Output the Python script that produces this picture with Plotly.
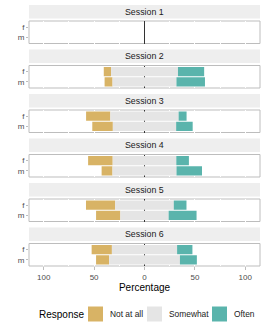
import plotly.graph_objects as go
from plotly.subplots import make_subplots

# ---- data (percentages) ----
sessions = ["Session 1", "Session 2", "Session 3", "Session 4", "Session 5", "Session 6"]
genders = ["f", "m"]
responses = ["Not at all", "Somewhat", "Often"]
not_at_all_f = [None, 7.2, 24.1, 24.4, 29.0, 20.1]
somewhat_f = [None, 66.4, 67.7, 63.1, 58.1, 64.7]
often_f = [None, 26.0, 7.9, 12.5, 12.6, 15.2]
not_at_all_m = [None, 7.9, 20.4, 10.8, 24.1, 12.9]
somewhat_m = [None, 63.4, 62.8, 63.5, 47.9, 70.3]
often_m = [None, 28.3, 16.4, 25.3, 27.7, 16.8]
x_tickvals = [-100, -50, 0, 50, 100]
x_ticktext = ["100", "50", "0", "50", "100"]

# ---- style ----
FONT = "Liberation Sans"
COLORS = {"Not at all": "#D8B365", "Somewhat": "#E5E5E5", "Often": "#5AB4AC"}
W, H = 266, 332
ML, MR, MT, MB = 29, 6, 21, 66
PANEL_H = 22.5
GAP = 22
plot_h = H - MT - MB

fig = make_subplots(rows=6, cols=1, shared_xaxes=True,
                    vertical_spacing=GAP / plot_h)

for i, s in enumerate(sessions):
    r = i + 1
    # invisible anchor trace so every facet keeps its f/m axis
    fig.add_trace(go.Scatter(x=[0, 0], y=genders, mode="markers",
                             marker=dict(opacity=0), hoverinfo="skip",
                             showlegend=False), row=r, col=1)
    n = [not_at_all_f[i], not_at_all_m[i]]
    so = [somewhat_f[i], somewhat_m[i]]
    of = [often_f[i], often_m[i]]
    if n[0] is not None:
        fig.add_trace(go.Bar(orientation="h", y=genders, x=n,
                             base=[-a / 2 - b for a, b in zip(so, n)],
                             width=0.9, marker=dict(color=COLORS["Not at all"], line_width=0),
                             name="Not at all", showlegend=False), row=r, col=1)
        fig.add_trace(go.Bar(orientation="h", y=genders, x=so,
                             base=[-a / 2 for a in so],
                             width=0.9, marker=dict(color=COLORS["Somewhat"], line_width=0),
                             name="Somewhat", showlegend=False), row=r, col=1)
        fig.add_trace(go.Bar(orientation="h", y=genders, x=of,
                             base=[a / 2 for a in so],
                             width=0.9, marker=dict(color=COLORS["Often"], line_width=0),
                             name="Often", showlegend=False), row=r, col=1)
    sfx = "" if r == 1 else str(r)
    # panel border
    fig.add_shape(type="rect", xref=f"x{sfx} domain", yref=f"y{sfx} domain",
                  x0=0, x1=1, y0=0, y1=1, layer="below",
                  line=dict(color="#BDBDBD", width=1), fillcolor="white")
    # strip
    y0 = 1 + 2.5 / PANEL_H
    y1 = 1 + 16 / PANEL_H
    fig.add_shape(type="rect", xref=f"x{sfx} domain", yref=f"y{sfx} domain",
                  x0=0, x1=1, y0=y0, y1=y1, line=dict(width=0), fillcolor="#EEEEEE")
    fig.add_annotation(xref=f"x{sfx} domain", yref=f"y{sfx} domain",
                       x=0.5, y=(y0 + y1) / 2, text=s, showarrow=False,
                       font=dict(family=FONT, size=8.8, color="#1A1A1A"),
                       xanchor="center", yanchor="middle")
    fig.update_yaxes(row=r, col=1, type="category", categoryorder="array",
                     categoryarray=["m", "f"], range=[-0.6, 1.6], automargin=False,
                     showgrid=False, zeroline=False, ticks="outside", ticklen=2,
                     tickcolor="#BDBDBD", showline=False,
                     tickfont=dict(family=FONT, size=8, color="#4D4D4D"))
    fig.update_xaxes(row=r, col=1, range=[-114.6, 114.6], tickvals=x_tickvals,
                     ticktext=x_ticktext, showgrid=True, gridcolor="white", gridwidth=1,
                     minor=dict(tickvals=[-75, -25, 25, 75], showgrid=True,
                                gridcolor="white", gridwidth=1),
                     zeroline=True, zerolinecolor="#333333", zerolinewidth=1,
                     showline=False, automargin=False,
                     tickfont=dict(family=FONT, size=8, color="#4D4D4D"))

fig.update_xaxes(row=6, col=1, ticks="outside", ticklen=3, tickcolor="#BDBDBD",
                 title=dict(text="Percentage", font=dict(family=FONT, size=10, color="black"),
                            standoff=1))

# ---- manual legend (pixel layout -> paper coords) ----
def px_x(p):
    return (p - ML) / (W - ML - MR)

def px_y(p):
    return (H - MB - p) / plot_h

leg_cy = 314
fig.add_annotation(xref="paper", yref="paper", x=px_x(37), y=px_y(leg_cy), text="Response",
                   showarrow=False, xanchor="left", yanchor="middle",
                   font=dict(family=FONT, size=10, color="black"))
legend_items = [("Not at all", 88), ("Somewhat", 147), ("Often", 212)]
for name, bx in legend_items:
    fig.add_shape(type="rect", xref="paper", yref="paper",
                  x0=px_x(bx), x1=px_x(bx + 15), y0=px_y(leg_cy + 7.5), y1=px_y(leg_cy - 7.5),
                  line=dict(width=0), fillcolor=COLORS[name])
    fig.add_annotation(xref="paper", yref="paper", x=px_x(bx + 20), y=px_y(leg_cy), text=name,
                       showarrow=False, xanchor="left", yanchor="middle",
                       font=dict(family=FONT, size=8.4, color="#1A1A1A"))

fig.update_layout(template="none", width=W, height=H,
                  margin=dict(l=ML, r=MR, t=MT, b=MB),
                  barmode="overlay", showlegend=False,
                  plot_bgcolor="white", paper_bgcolor="white",
                  font=dict(family=FONT))

fig.write_html("out.html", config={"displayModeBar": False},
               post_script="document.body.style.margin='0';document.body.style.overflow='hidden';")
